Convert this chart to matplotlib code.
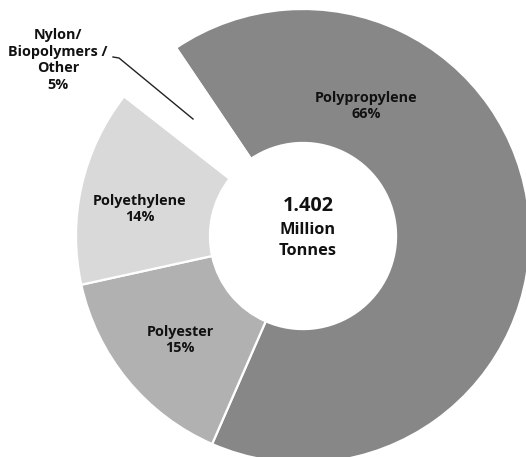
import numpy as np
import matplotlib
matplotlib.use("Agg")
import matplotlib.pyplot as plt

# データ
materials = ["Polypropylene", "Polyester", "Polyethylene", "Nylon/\nBiopolymers /\nOther"]
shares = [66, 15, 14, 5]
colors = ["#878787", "#b1b1b1", "#d9d9d9", "#ffffff"]
total_text = ["1.402", "Million", "Tonnes"]

plt.rcParams["font.family"] = ["Open Sans", "DejaVu Sans"]

# 画素 -> データ座標 (中心 303,236 / 外半径 227px)
cx, cy, rad = 303, 236, 227
W, H = 526, 457

fig = plt.figure(figsize=(W / 100, H / 100), dpi=100)
ax = fig.add_axes([0, 0, 1, 1])

wedges, _ = ax.pie(shares, colors=colors, startangle=124, counterclock=False,
                   radius=1.0,
                   wedgeprops=dict(width=0.59, edgecolor="white", linewidth=1.6))

ax.set_xlim(-cx / rad, (W - cx) / rad)
ax.set_ylim(-(H - cy) / rad, cy / rad)
ax.set_aspect("auto")
ax.axis("off")


def to_data(px, py):
    return (px - cx) / rad, (cy - py) / rad


# ラベル位置 (画素)
label_pos = [(366, 106), (180, 340), (140, 209), (58, 60)]
for name, val, (px, py) in zip(materials, shares, label_pos):
    x, y = to_data(px, py)
    ax.text(x, y, f"{name}\n{val}%", ha="center", va="center",
            fontsize=10.4, fontweight="bold", color="#111111", linespacing=1.25)

# 引き出し線
lx, ly = zip(*[to_data(113, 57), to_data(119, 58), to_data(193, 119)])
ax.plot(lx, ly, color="#222222", lw=1.0)

# 中央のテキスト
x, y = to_data(308, 206)
ax.text(x, y, total_text[0], ha="center", va="center", fontsize=14.3,
        fontweight="bold", color="#111111")
x, y = to_data(308, 230)
ax.text(x, y, total_text[1], ha="center", va="center", fontsize=11.8,
        fontweight="bold", color="#111111")
x, y = to_data(308, 251)
ax.text(x, y, total_text[2], ha="center", va="center", fontsize=11.8,
        fontweight="bold", color="#111111")

fig.savefig("out.png", dpi=100)
